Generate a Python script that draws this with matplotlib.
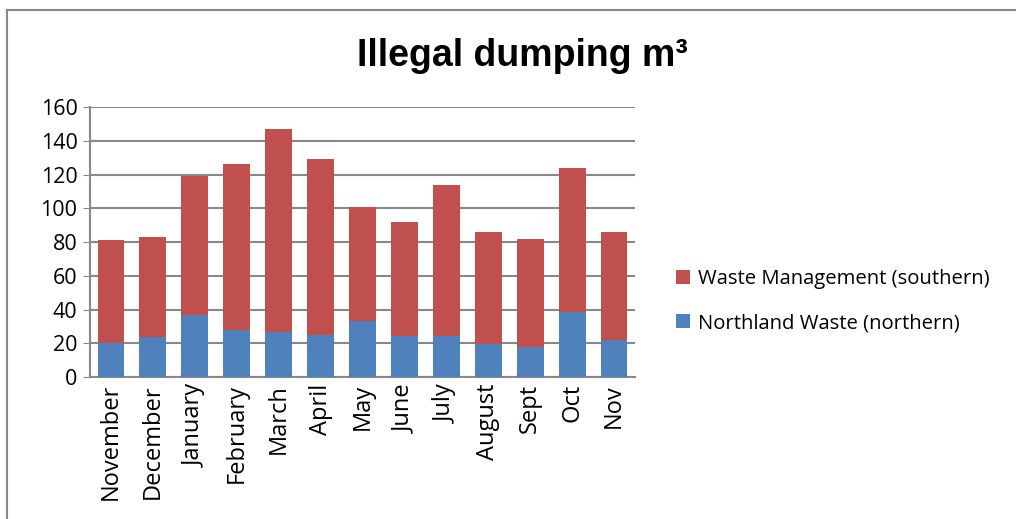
import matplotlib.pyplot as plt
from matplotlib.lines import Line2D

months = ["November", "December", "January", "February", "March", "April",
          "May", "June", "July", "August", "Sept", "Oct", "Nov"]
totals = [81, 83, 119, 126, 147, 129, 101, 92, 114, 86, 82, 124, 86]
northland = [20, 23.5, 36.5, 28, 26.5, 25, 33, 24.5, 24.5, 19.5, 17.5, 38.5, 22]
waste_mgmt = [t - n for t, n in zip(totals, northland)]

blue = "#4f81bd"
red = "#c0504d"

plt.rcParams['font.family'] = ['Open Sans', 'DejaVu Sans']

fig = plt.figure(figsize=(10.16, 5.19), dpi=100)
ax = fig.add_axes([0.0886, 0.2736, 0.5364, 0.5202])

x = range(len(months))
ax.bar(x, northland, width=0.64, color=blue, label="Northland Waste (northern)", zorder=3)
ax.bar(x, waste_mgmt, width=0.64, bottom=northland, color=red,
       label="Waste Management (southern)", zorder=3)

ax.set_ylim(0, 160)
ax.set_xlim(-0.5, len(months) - 0.5)
ax.set_yticks(range(0, 161, 20))
ax.set_xticks(list(x))
ax.set_xticklabels(months, rotation=90, fontsize=17)
ax.tick_params(axis='y', labelsize=15.5, length=5, color='#888888', pad=4)
ax.tick_params(axis='x', length=0, pad=5)
ax.grid(axis='y', color='#888888', linewidth=1.5, zorder=0)
for s in ['top', 'right']:
    ax.spines[s].set_visible(False)
for s in ['left', 'bottom']:
    ax.spines[s].set_color('#888888')
    ax.spines[s].set_linewidth(1.5)

fig.text(0.514, 0.893, "Illegal dumping m³", ha='center', va='center',
         fontsize=27, fontweight='bold', family='Liberation Sans')

handles, labels = ax.get_legend_handles_labels()
fig.legend(handles[::-1], labels[::-1], loc='center left', bbox_to_anchor=(0.647, 0.42),
           frameon=False, fontsize=14.6, handlelength=0.7, handleheight=0.7,
           handletextpad=0.4, labelspacing=1.2)

# outer chart border (left and top edges visible)
w, h = 1016, 519
fig.add_artist(Line2D([7 / w, 7 / w], [0, 1 - 10 / h], color='#888888', linewidth=1.5))
fig.add_artist(Line2D([7 / w, 1], [1 - 10 / h, 1 - 10 / h], color='#888888', linewidth=1.5))

fig.savefig("out.png", dpi=100)
